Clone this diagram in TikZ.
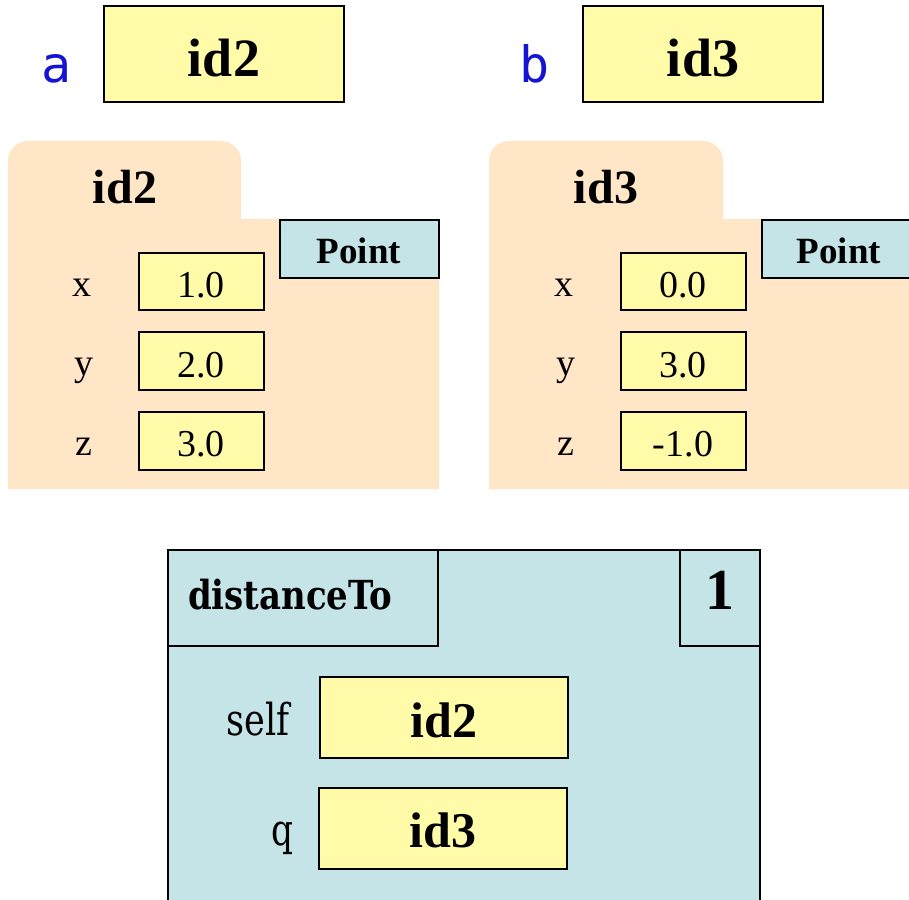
\documentclass[tikz,border=0pt]{standalone}
\usepackage{fontspec}
\usepackage{graphicx}
\setmainfont{Liberation Serif}
\newfontfamily\monof{DejaVu Sans Mono}
\newfontfamily\condf{DejaVu Serif Condensed}
\newfontfamily\slabf{DejaVu Serif Condensed Bold}
\definecolor{boxyellow}{RGB}{255,251,168}
\definecolor{peach}{RGB}{255,230,199}
\definecolor{lightblue}{RGB}{196,228,232}
\definecolor{varblue}{RGB}{20,20,210}
\tikzset{
  valbox/.style={draw=black, line width=1.5pt, fill=boxyellow},
  classbox/.style={draw=black, line width=1.5pt, fill=lightblue},
  framebox/.style={draw=black, line width=1.5pt, fill=lightblue},
  txt/.style={inner sep=0pt, anchor=base},
  bigid/.style={txt, font=\fontsize{54}{54}\selectfont\bfseries},
  midid/.style={txt, font=\fontsize{48}{48}\selectfont\bfseries},
  clsname/.style={txt, font=\fontsize{37}{37}\selectfont\bfseries},
  plain/.style={txt, font=\fontsize{38}{38}\selectfont},
  varname/.style={txt, text=varblue, font=\fontsize{50}{50}\selectfont\monof},
}
\begin{document}
\begin{tikzpicture}[x=1pt,y=-1pt]
\useasboundingbox (0,0) rectangle (909,899);
\clip (0,0) rectangle (909,899);

% global variables
\node[varname] (va) at (57,82) {a};
\draw[valbox] (104,6) rectangle (344,102);
\node[bigid] (ida) at (224,76) {id2};
\node[varname] (vb) at (535,82) {b};
\draw[valbox] (583,6) rectangle (823,102);
\node[bigid] (idb) at (703,76) {id3};

% folder id2
\fill[peach] (8,489) -- (8,219) [rounded corners=20pt] -- (8,141) -- (241,141) [sharp corners] -- (241,219) -- (439,219) -- (439,489) -- cycle;
\node[midid] (f1) at (125,203) {id2};
\draw[classbox] (280,220) rectangle (439,278);
\node[clsname] (p1) at (359,263) {Point};
\node[plain] (x1) at (82,296) {x};
\draw[valbox] (139,253) rectangle (264,310);
\node[plain] (x1v) at (201,297) {1.0};
\node[plain] (y1) at (84,375) {y};
\draw[valbox] (139,332) rectangle (264,390);
\node[plain] (y1v) at (201,377) {2.0};
\node[plain] (z1) at (84,455) {z};
\draw[valbox] (139,412) rectangle (264,470);
\node[plain] (z1v) at (201,456) {3.0};

% folder id3
\fill[peach] (489,489) -- (489,219) [rounded corners=20pt] -- (489,141) -- (723,141) [sharp corners] -- (723,219) -- (930,219) -- (930,489) -- cycle;
\node[midid] (f2) at (606,203) {id3};
\draw[classbox] (762,220) rectangle (930,278);
\node[clsname] (p2) at (839,263) {Point};
\node[plain] (x2) at (564,296) {x};
\draw[valbox] (621,253) rectangle (746,310);
\node[plain] (x2v) at (683,297) {0.0};
\node[plain] (y2) at (566,375) {y};
\draw[valbox] (621,332) rectangle (746,390);
\node[plain] (y2v) at (683,377) {3.0};
\node[plain] (z2) at (566,455) {z};
\draw[valbox] (621,412) rectangle (746,470);
\node[plain] (z2v) at (683,456) {-1.0};

% call frame
\draw[framebox] (168,920) -- (168,550) -- (760,550) -- (760,920);
\draw[black, line width=1.5pt] (168,646) -- (438,646) -- (438,550);
\draw[black, line width=1.5pt] (680,550) -- (680,646) -- (760,646);
\node[txt] (fn) at (290,609) {\resizebox{204pt}{\height}{\slabf\fontsize{40}{40}\selectfont distanceTo}};
\node[bigid, font=\fontsize{58}{58}\selectfont\bfseries] (pc) at (720,609) {1};
\node[txt] (self) at (258,735) {\resizebox{63pt}{\height}{\condf\fontsize{44}{44}\selectfont self}};
\draw[valbox] (320,677) rectangle (568,758);
\node[bigid, font=\fontsize{50}{50}\selectfont\bfseries] (sv) at (444,737) {id2};
\node[txt] (q) at (282,845) {\resizebox{22pt}{\height}{\condf\fontsize{44}{44}\selectfont q}};
\draw[valbox] (319,788) rectangle (567,869);
\node[bigid, font=\fontsize{50}{50}\selectfont\bfseries] (qv) at (443,847) {id3};
\end{tikzpicture}
\end{document}
